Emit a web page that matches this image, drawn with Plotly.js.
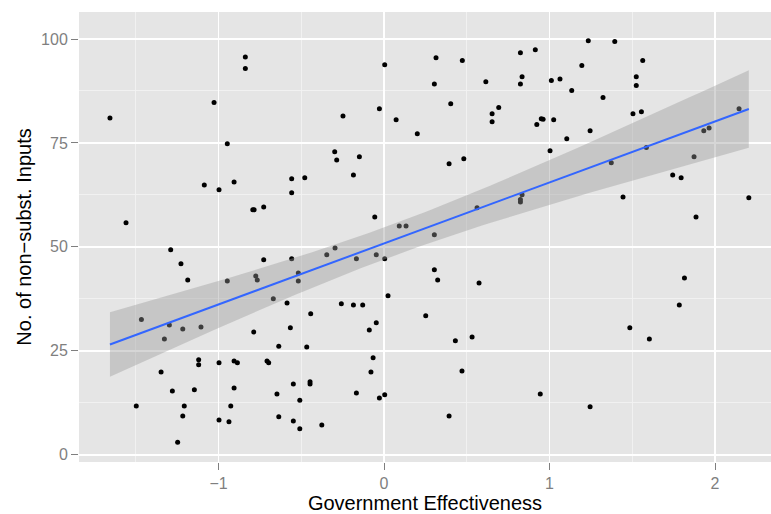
<!DOCTYPE html>
<html>
<head>
<meta charset="utf-8">
<script src="https://cdn.plot.ly/plotly-3.0.1.min.js"></script>
<style>html,body{margin:0;padding:0;background:#fff;}#chart{width:771px;height:514px;}</style>
</head>
<body>
<div id="chart"></div>
<script>
// Government Effectiveness (x) vs No. of non-subst. Inputs (y)
const govEffectiveness = [
  -0.838,-0.838,-1.027,-1.656,-0.947,0.004,0.314,0.473,0.824,0.834,
  0.824,0.615,0.304,0.403,0.693,0.653,0.653,-0.028,-0.248,0.073,
  0.201,-0.298,-0.286,-0.149,0.393,0.482,0.914,1.234,1.394,1.195,
  1.563,1.011,1.063,1.134,1.524,1.524,1.323,0.923,0.950,0.961,
  1.025,1.504,1.555,1.104,1.245,1.003,1.585,1.373,1.873,1.932,
  1.964,2.145,-1.559,-1.086,-0.997,-0.906,-0.558,-0.479,-0.558,-0.793,
  -0.785,-0.727,-1.289,-1.227,-1.186,-0.947,-0.775,-0.766,-0.727,-0.558,
  -0.518,-0.518,-0.669,-0.586,-0.443,-1.466,-0.185,-0.056,0.092,0.133,
  0.304,0.562,0.824,0.824,0.834,-0.296,-0.346,-0.167,-0.047,0.004,
  0.304,0.324,0.574,0.024,-0.258,-0.185,-0.129,0.252,1.744,1.795,
  1.444,2.204,1.885,1.815,1.784,-1.297,-1.216,-1.106,-1.327,-0.787,
  -0.566,-0.636,-0.467,-1.120,-1.120,-0.997,-0.906,-0.886,-0.707,-0.697,
  -1.347,-1.279,-1.146,-0.906,-0.647,-0.548,-0.447,-0.447,-0.509,-1.497,
  -1.207,-0.926,-1.216,-0.997,-0.937,-0.636,-0.548,-0.509,-1.247,-0.047,
  -0.089,0.431,0.532,-0.066,-0.079,0.471,-0.167,-0.028,0.004,0.393,
  -0.376,1.485,1.603,0.944,1.245
];
const nonSubstInputs = [
  95.7,92.9,84.7,81.0,74.8,93.8,95.5,94.8,96.7,90.9,
  89.2,89.7,89.2,84.4,83.5,82.0,80.1,83.2,81.5,80.6,
  77.2,72.9,70.9,71.7,70.0,71.2,97.4,99.6,99.4,93.6,
  94.8,90.0,90.4,87.6,90.9,88.8,85.9,79.4,80.8,80.7,
  80.6,82.0,82.5,76.0,77.9,73.1,73.9,70.2,71.7,77.9,
  78.6,83.2,55.8,64.9,63.7,65.6,66.4,66.6,63.0,58.9,
  58.9,59.6,49.3,45.9,42.0,41.8,43.0,42.0,46.9,47.1,
  43.7,41.8,37.5,36.5,33.9,32.5,67.3,57.2,55.0,55.0,
  52.9,59.4,61.4,60.8,62.5,49.7,48.1,47.1,48.1,47.1,
  44.5,42.0,41.3,38.2,36.3,36.0,36.0,33.4,67.3,66.6,
  62.0,61.8,57.2,42.5,36.0,31.2,30.2,30.7,27.8,29.5,
  30.5,26.1,25.9,22.8,21.6,22.1,22.5,22.1,22.5,22.1,
  19.9,15.3,15.6,16.0,14.6,17.0,17.5,17.0,13.1,11.7,
  11.7,11.7,9.3,8.3,7.9,9.1,8.1,6.2,3.0,31.7,
  30.0,27.4,28.3,23.3,19.9,20.1,14.8,13.6,14.4,9.3,
  7.1,30.5,27.8,14.6,11.5
];
const xTickVals = [-1, 0, 1, 2];
const xTickText = ['−1', '0', '1', '2'];
const yTickVals = [0, 25, 50, 75, 100];

// Linear fit (lm) with 95% confidence band, computed from the data
const n = govEffectiveness.length;
const mx = govEffectiveness.reduce((a,b)=>a+b,0)/n;
const my = nonSubstInputs.reduce((a,b)=>a+b,0)/n;
let sxx = 0, sxy = 0;
for (let i=0;i<n;i++){ sxx += (govEffectiveness[i]-mx)**2; sxy += (govEffectiveness[i]-mx)*(nonSubstInputs[i]-my); }
const slope = sxy/sxx, intercept = my - slope*mx;
let sse = 0;
for (let i=0;i<n;i++){ const r = nonSubstInputs[i]-(intercept+slope*govEffectiveness[i]); sse += r*r; }
const sigma = Math.sqrt(sse/(n-2));
const tcrit = 1.975;
const xmin = Math.min(...govEffectiveness), xmax = Math.max(...govEffectiveness);
const fx = [], fy = [], up = [], lo = [];
for (let k=0;k<80;k++){
  const x = xmin + (xmax-xmin)*k/79;
  const y = intercept + slope*x;
  const se = sigma*Math.sqrt(1/n + (x-mx)**2/sxx);
  fx.push(x); fy.push(y); up.push(y + tcrit*se); lo.push(y - tcrit*se);
}
const bandX = fx.concat(fx.slice().reverse());
const bandY = up.concat(lo.slice().reverse());

const traces = [
  {x: govEffectiveness, y: nonSubstInputs, type: 'scatter', mode: 'markers',
   marker: {color: '#000000', size: 5}, hoverinfo: 'x+y'},
  {x: bandX, y: bandY, type: 'scatter', mode: 'lines', fill: 'toself',
   fillcolor: 'rgba(153,153,153,0.4)', line: {width: 0}, hoverinfo: 'skip'},
  {x: fx, y: fy, type: 'scatter', mode: 'lines', line: {color: '#3366FF', width: 2}}
];

const tickFont = {family: 'Liberation Sans, Arial, sans-serif', size: 16, color: '#7F7F7F'};
const titleFont = {family: 'Liberation Sans, Arial, sans-serif', size: 20, color: '#000000'};

const layout = {
  width: 771, height: 514,
  margin: {l: 79, r: 0, t: 12, b: 52, pad: 0},
  paper_bgcolor: '#FFFFFF', plot_bgcolor: '#E5E5E5',
  showlegend: false,
  xaxis: {
    range: [-1.843, 2.338], tickvals: xTickVals, ticktext: xTickText,
    ticks: 'outside', ticklen: 7, tickwidth: 1, tickcolor: '#7F7F7F',
    tickfont: tickFont, showgrid: true, gridcolor: '#FFFFFF', gridwidth: 1.8,
    zeroline: false, showline: false,
    minor: {dtick: 0.5, tick0: 0, showgrid: true, gridcolor: '#F2F2F2', gridwidth: 0.9, ticks: ''},
    title: {text: 'Government Effectiveness', font: titleFont, standoff: 9},
    automargin: false
  },
  yaxis: {
    range: [-1.78, 106.5], tickvals: yTickVals,
    ticks: 'outside', ticklen: 7, tickwidth: 1, tickcolor: '#7F7F7F',
    tickfont: tickFont, showgrid: true, gridcolor: '#FFFFFF', gridwidth: 1.8,
    zeroline: false, showline: false,
    minor: {dtick: 12.5, tick0: 0, showgrid: true, gridcolor: '#F2F2F2', gridwidth: 0.9, ticks: ''},
    title: {text: 'No. of non−subst. Inputs', font: titleFont, standoff: 4},
    automargin: false
  }
};

Plotly.newPlot('chart', traces, layout, {displayModeBar: false, staticPlot: true});
</script>
</body>
</html>
